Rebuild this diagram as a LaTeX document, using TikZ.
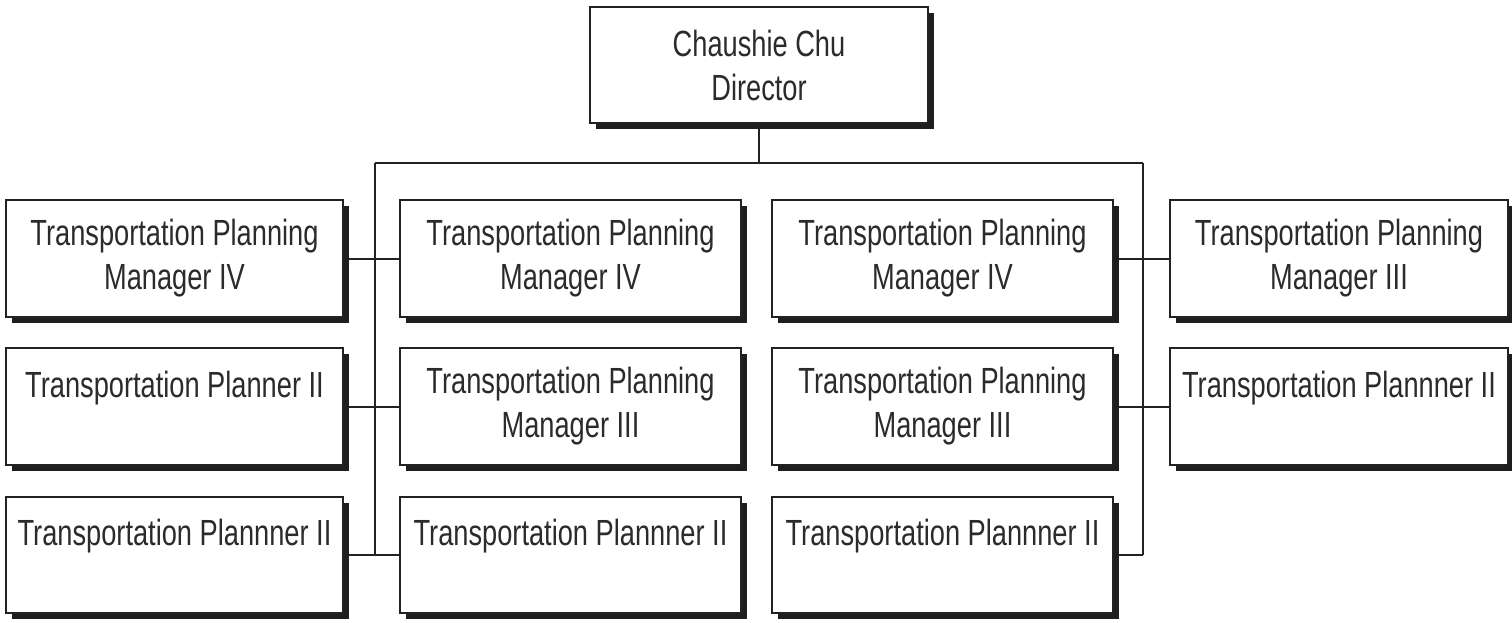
\documentclass[tikz,border=0pt]{standalone}
\usepackage{fontspec}
\setmainfont{Liberation Sans}[FakeStretch=0.748]
\usetikzlibrary{shadows,backgrounds}
\definecolor{linec}{HTML}{222222}
\definecolor{txtc}{HTML}{2B2B2B}
\definecolor{shadc}{HTML}{1E1E1E}
\tikzset{
  orgbox/.style={draw=linec, line width=2pt, fill=white, align=center,
    inner sep=0pt, text=txtc, font=\fontsize{36.4}{44}\selectfont,
    drop shadow={shadow xshift=6pt, shadow yshift=-6pt, fill=shadc, opacity=1}},
  wide/.style={minimum width=341pt, minimum height=117pt},
  conn/.style={draw=linec, line width=2pt}
}
\begin{document}
\begin{tikzpicture}[x=1pt, y=-1pt]
\useasboundingbox (0,0) rectangle (1512,622);
% top
\node[orgbox, minimum width=338pt, minimum height=116pt] (top) at (759,65) {Chaushie Chu\\Director};
% column 1
\node[orgbox, minimum width=337pt, minimum height=117pt] (b11) at (174.5,258.5) {Transportation Planning\\Manager IV};
\node[orgbox, minimum width=337pt, minimum height=117pt] (b21) at (174.5,406.5) {Transportation Planner II\\\mbox{}};
\node[orgbox, minimum width=337pt, minimum height=116pt] (b31) at (174.5,554.5) {Transportation Plannner II\\\mbox{}};
% column 2
\node[orgbox, wide] (b12) at (570.5,258.5) {Transportation Planning\\Manager IV};
\node[orgbox, wide] (b22) at (570.5,406.5) {Transportation Planning\\Manager III};
\node[orgbox, wide, minimum height=116pt] (b32) at (570.5,554.5) {Transportation Plannner II\\\mbox{}};
% column 3
\node[orgbox, wide] (b13) at (942.5,258.5) {Transportation Planning\\Manager IV};
\node[orgbox, wide] (b23) at (942.5,406.5) {Transportation Planning\\Manager III};
\node[orgbox, wide, minimum height=116pt] (b33) at (942.5,554.5) {Transportation Plannner II\\\mbox{}};
% column 4
\node[orgbox, minimum width=338pt, minimum height=117pt] (b14) at (1339,258.5) {Transportation Planning\\Manager III};
\node[orgbox, minimum width=338pt, minimum height=117pt] (b24) at (1339,406.5) {Transportation Plannner II\\\mbox{}};
% connectors
\begin{pgfonlayer}{background}
\fill[white] (0,0) rectangle (1512,622);
\coordinate (j) at ([yshift=-40pt]top.south);
\coordinate (busL) at (375,163);
\coordinate (busR) at (1143,163);
\coordinate (endL) at (375,555);
\coordinate (endR) at (1143,555);
\draw[conn] (top.south) -- (j);
\draw[conn] (busL) -- (busR);
\draw[conn] (busL) -- (endL);
\draw[conn] (busR) -- (endR);
\draw[conn] (b11.east) -- (b12.west);
\draw[conn] (b21.east) -- (b22.west);
\draw[conn] (b31.east) -- (b32.west);
\draw[conn] (b13.east) -- (b14.west);
\draw[conn] (b23.east) -- (b24.west);
\draw[conn] (b33.east) -- (b33.east -| endR);
\end{pgfonlayer}
\end{tikzpicture}
\end{document}
